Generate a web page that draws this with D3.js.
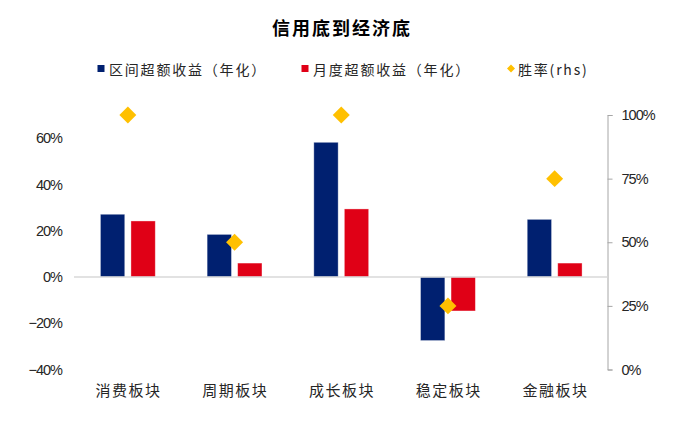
<!DOCTYPE html>
<html>
<head>
<meta charset="utf-8">
<script src="https://cdn.jsdelivr.net/npm/d3@7/dist/d3.min.js"></script>
<style>
  html, body { margin: 0; padding: 0; background: #fff; }
  svg { display: block; }
</style>
</head>
<body>
<svg id="chart" width="676" height="426"></svg>
<script>
// Sector returns and win rates
const categories = ["消费板块", "周期板块", "成长板块", "稳定板块", "金融板块"];
const intervalExcess = [0.271, 0.184, 0.582, -0.275, 0.249];   // 区间超额收益（年化）
const monthlyExcess  = [0.242, 0.060, 0.294, -0.147, 0.060];   // 月度超额收益（年化）
const winRate        = [1.00, 0.50, 1.00, 0.25, 0.75];         // 胜率 (rhs)
const leftTicks  = [-0.4, -0.2, 0, 0.2, 0.4, 0.6];
const rightTicks = [0, 0.25, 0.5, 0.75, 1];
const seriesNames = ["区间超额收益（年化）", "月度超额收益（年化）", "胜率(rhs)"];

const NAVY = "#002070", RED = "#E00016", GOLD = "#FFC000";
const CJK = "'Noto Sans CJK SC', sans-serif";
const LAT = "'Liberation Sans', Arial, sans-serif";

const svg = d3.select("#chart");

const x = d3.scaleBand().domain(categories).range([74.5, 608]).padding(0);
const yL = d3.scaleLinear().domain([-0.4, 0.7]).range([369.5, 115]);
const yR = d3.scaleLinear().domain([0, 1]).range([369.5, 115]);

// Title
svg.append("text")
  .attr("x", 342).attr("y", 35)
  .attr("text-anchor", "middle")
  .style("font-family", CJK).style("font-weight", 700)
  .style("font-size", "18px").style("letter-spacing", "2px")
  .attr("fill", "#000")
  .text("信用底到经济底");

// Legend
const legend = svg.append("g").style("font-family", CJK).style("font-size", "14px");
const legItems = [
  { x: 97.5, color: NAVY, kind: "rect", label: seriesNames[0], ls: "1.8px" },
  { x: 301.5, color: RED, kind: "rect", label: seriesNames[1], ls: "1.8px" },
  { x: 507, color: GOLD, kind: "diamond", label: seriesNames[2], ls: "1.8px" }
];
legItems.forEach(d => {
  if (d.kind === "rect") {
    legend.append("rect").attr("x", d.x).attr("y", 65).attr("width", 7).attr("height", 7).attr("fill", d.color);
  } else {
    legend.append("path")
      .attr("d", d3.symbol(d3.symbolSquare, 32)())
      .attr("transform", `translate(${d.x + 4},68.5) rotate(45)`)
      .attr("fill", d.color);
  }
  legend.append("text")
    .attr("x", d.x + (d.kind === "rect" ? 11.5 : 11))
    .attr("y", 74.5)
    .attr("fill", "#262626")
    .style("letter-spacing", d.ls)
    .text(d.label);
});

// Left axis labels
const leftAxis = svg.append("g")
  .attr("transform", "translate(62,0)")
  .call(d3.axisLeft(yL).tickValues(leftTicks).tickSize(0).tickPadding(0)
    .tickFormat(d => d3.format(".0%")(d).replace("-", "−")));
leftAxis.select(".domain").remove();
leftAxis.selectAll("text")
  .style("font-family", LAT).style("font-size", "14.5px")
  .style("letter-spacing", "-1px").attr("fill", "#262626");

// Right axis
const rightAxis = svg.append("g")
  .attr("transform", "translate(607.5,0)")
  .call(d3.axisRight(yR).tickValues(rightTicks).tickSize(5).tickSizeOuter(5).tickPadding(9)
    .tickFormat(d3.format(".0%")));
rightAxis.select(".domain").attr("stroke", "#a6a6a6").attr("stroke-width", 1);
rightAxis.selectAll(".tick line").attr("stroke", "#a6a6a6");
rightAxis.selectAll("text")
  .style("font-family", LAT).style("font-size", "14.5px")
  .style("letter-spacing", "-1px").attr("fill", "#262626");

// Bars
const bw = x.bandwidth() * 0.228;
const off = x.bandwidth() * 0.143;
const bars = svg.append("g");
[[intervalExcess, NAVY, -1], [monthlyExcess, RED, 1]].forEach(([vals, color, side]) => {
  bars.selectAll(null).data(vals).join("rect")
    .attr("x", (d, i) => x(categories[i]) + x.bandwidth() / 2 + side * off - bw / 2)
    .attr("y", d => yL(Math.max(0, d)))
    .attr("width", bw)
    .attr("height", d => Math.abs(yL(d) - yL(0)))
    .attr("fill", color)
    .attr("stroke", "rgba(255,255,255,0.45)")
    .attr("stroke-width", 0.8);
});

// Zero line
svg.append("line")
  .attr("x1", 74).attr("x2", 607.5)
  .attr("y1", yL(0)).attr("y2", yL(0))
  .attr("stroke", "#d9d9d9").attr("stroke-width", 1.5);

// Win-rate markers
svg.append("g").selectAll("path").data(winRate).join("path")
  .attr("d", d3.symbol(d3.symbolSquare, 144)())
  .attr("transform", (d, i) => `translate(${x(categories[i]) + x.bandwidth() / 2},${yR(d)}) rotate(45)`)
  .attr("fill", GOLD);

// Category labels
svg.append("g").selectAll("text").data(categories).join("text")
  .attr("x", d => x(d) + x.bandwidth() / 2 + 0.75)
  .attr("y", 396)
  .attr("text-anchor", "middle")
  .style("font-family", CJK).style("font-size", "15px")
  .style("letter-spacing", "1.5px")
  .attr("fill", "#262626")
  .text(d => d);
</script>
</body>
</html>
